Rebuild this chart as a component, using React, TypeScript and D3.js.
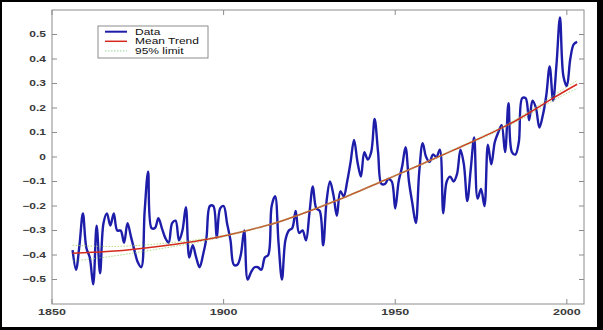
import React from "react";
import * as d3 from "d3";

const startYear = 1856;
const anomaly: number[] = [
  -0.38, -0.46, -0.36, -0.23,
  -0.37, -0.41, -0.52, -0.28, -0.475, -0.27, -0.23, -0.28, -0.23, -0.30,
  -0.30, -0.35, -0.27, -0.325, -0.38, -0.43, -0.45, -0.22, -0.06, -0.29,
  -0.29, -0.25, -0.29, -0.33, -0.35, -0.27, -0.26, -0.34, -0.30, -0.205,
  -0.41, -0.36, -0.41, -0.45, -0.40, -0.33, -0.20, -0.20, -0.33, -0.21,
  -0.20, -0.27, -0.34, -0.44, -0.44, -0.40, -0.30, -0.50, -0.47, -0.45,
  -0.45, -0.46, -0.41, -0.40, -0.20, -0.16, -0.35, -0.50, -0.34, -0.30,
  -0.29, -0.22, -0.31, -0.30, -0.34, -0.23, -0.12, -0.21, -0.22, -0.36,
  -0.18, -0.10, -0.155, -0.24, -0.14, -0.16, -0.10, -0.02, 0.07, -0.02,
  -0.08, 0.02, -0.01, 0.02, 0.155, 0.02, -0.11, -0.11, -0.09, -0.10,
  -0.21, -0.10, -0.04, 0.04, -0.10, -0.19, -0.27, -0.06, 0.056, 0.00,
  -0.02, 0.01, 0.00, 0.03, -0.23, -0.10, -0.08, -0.10, -0.07, 0.03,
  -0.03, -0.18, -0.05, 0.08, -0.17, -0.13, -0.20, 0.05, -0.03, 0.06,
  0.10, 0.13, 0.02, 0.22, 0.02, 0.01, 0.06, 0.24, 0.24, 0.15,
  0.23, 0.20, 0.12, 0.17, 0.25, 0.37, 0.23, 0.38, 0.57, 0.33,
  0.29, 0.40, 0.46, 0.47,
];

const trendYears = [1856, 1866, 1876, 1886, 1896, 1906, 1916, 1926, 1936, 1946, 1956, 1966, 1976, 1986, 1996, 2003];
const trend = [-0.393, -0.386, -0.373, -0.356, -0.334, -0.303, -0.265, -0.215, -0.16, -0.10, -0.04, 0.022, 0.085, 0.155, 0.24, 0.297];
const upperLimit = [-0.36, -0.365, -0.36, -0.348, -0.33, -0.301, -0.263, -0.213, -0.158, -0.098, -0.038, 0.025, 0.089, 0.161, 0.25, 0.312];
const lowerLimit = [-0.425, -0.408, -0.387, -0.364, -0.338, -0.305, -0.267, -0.217, -0.162, -0.102, -0.042, 0.019, 0.081, 0.149, 0.23, 0.28];

const xTicks = [1850, 1900, 1950, 2000];
const yTicks = [-0.5, -0.4, -0.3, -0.2, -0.1, 0, 0.1, 0.2, 0.3, 0.4, 0.5];
const legendLabels = ["Data", "Mean Trend", "95% limit"];

const W = 603;
const H = 330;
const left = 52, right = 584, top = 10, bottom = 304;

export default function App() {
  const x = d3.scaleLinear().domain([1850, 2005]).range([left, right]);
  const y = d3.scaleLinear().domain([-0.6, 0.6]).range([bottom, top]);

  const dataLine = d3
    .line<number>()
    .x((_, i) => x(startYear + i))
    .y((d) => y(d))
    .curve(d3.curveCatmullRom.alpha(0.5));

  const smooth = d3
    .line<number>()
    .x((_, i) => x(trendYears[i]))
    .y((d) => y(d))
    .curve(d3.curveNatural);

  const axisColor = "#8c8c8c";
  const tickLen = 5;
  const sy = 0.72;
  const font = "'Liberation Sans', Arial, sans-serif";

  const legendColors = ["#1d1daa", "#d42a1e", "#8fd68f"];

  return (
    <svg
      width={W}
      height={H}
      style={{ position: "absolute", left: 0, top: 0 }}
      fontFamily={font}
    >
      <rect x={0} y={0} width={W} height={H} fill="#000" />
      <rect x={2} y={2} width={595} height={325} fill="#fff" />

      {/* plot box */}
      <rect x={left} y={top} width={right - left} height={bottom - top} fill="none" stroke={axisColor} strokeWidth={1} />

      {/* y ticks */}
      {yTicks.map((t) => (
        <g key={"y" + t}>
          <line x1={left} x2={left + tickLen} y1={y(t)} y2={y(t)} stroke={axisColor} />
          <line x1={right} x2={right - tickLen} y1={y(t)} y2={y(t)} stroke={axisColor} />
          <text
            transform={`translate(${left - 6},${y(t)}) scale(1,${sy})`}
            textAnchor="end"
            dominantBaseline="central"
            fontSize={12}
            fontWeight="bold"
            fill="#3a3a3a"
          >
            {d3.format("")(t)}
          </text>
        </g>
      ))}

      {/* x ticks */}
      {xTicks.map((t) => (
        <g key={"x" + t}>
          <line x1={x(t)} x2={x(t)} y1={bottom} y2={bottom - tickLen} stroke={axisColor} />
          <line x1={x(t)} x2={x(t)} y1={top} y2={top + tickLen} stroke={axisColor} />
          <text
            transform={`translate(${x(t)},${bottom + 8}) scale(1,${sy})`}
            textAnchor="middle"
            dominantBaseline="central"
            fontSize={12.5}
            fontWeight="bold"
            fill="#3a3a3a"
          >
            {t}
          </text>
        </g>
      ))}

      {/* data */}
      <path d={dataLine(anomaly) || ""} fill="none" stroke="#1d1daa" strokeWidth={2.4} strokeLinejoin="round" />

      {/* trend */}
      <path d={smooth(trend) || ""} fill="none" stroke="#d42a1e" strokeWidth={1.5} />

      {/* 95% limits (drawn over the trend, tinting it where they meet) */}
      <path d={smooth(upperLimit) || ""} fill="none" stroke="#9ccf5a" strokeOpacity={0.75} strokeWidth={1} strokeDasharray="1.5,1.5" />
      <path d={smooth(lowerLimit) || ""} fill="none" stroke="#8fcf6a" strokeOpacity={0.75} strokeWidth={1} strokeDasharray="1.5,1.5" />

      {/* legend */}
      <g>
        <rect x={98} y={26} width={110} height={32} fill="#fff" stroke={axisColor} strokeWidth={1} />
        {legendLabels.map((lab, i) => {
          const ly = 31.7 + i * 9.6;
          return (
            <g key={lab}>
              <line
                x1={105}
                x2={127}
                y1={ly}
                y2={ly}
                stroke={legendColors[i]}
                strokeWidth={i === 0 ? 2 : i === 1 ? 1.5 : 1}
                strokeDasharray={i === 2 ? "1.5,1.5" : undefined}
              />
              <text
                transform={`translate(135,${ly}) scale(1,${sy})`}
                dominantBaseline="central"
                fontSize={12}
                fill="#111"
              >
                {lab}
              </text>
            </g>
          );
        })}
      </g>
    </svg>
  );
}
